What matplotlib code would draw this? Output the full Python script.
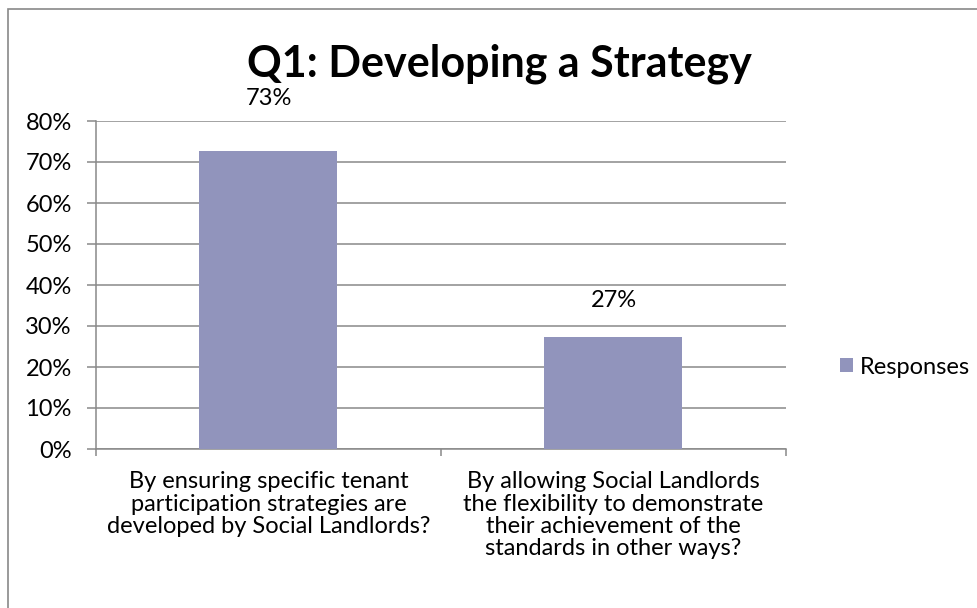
import matplotlib.pyplot as plt
from matplotlib.patches import Rectangle
from matplotlib.ticker import FixedLocator, PercentFormatter

# survey responses
categories = [
    "By ensuring specific tenant\nparticipation strategies are\ndeveloped by Social Landlords?",
    "By allowing Social Landlords\nthe flexibility to demonstrate\ntheir achievement of the\nstandards in other ways?",
]
responses = [0.727, 0.273]
series_name = "Responses"
title = "Q1: Developing a Strategy"

bar_color = "#9194BC"
grid_color = "#898989"
text_size = 17

plt.rcParams['font.family'] = ['Lato', 'DejaVu Sans']

fig = plt.figure(figsize=(9.78, 6.08), dpi=100)
ax = fig.add_axes([96 / 978, 159 / 608, 690 / 978, 328 / 608])

x = list(range(len(categories)))
bars = ax.bar(x, responses, width=0.4, color=bar_color, label=series_name, zorder=3)

# value labels above each bar
label_offsets = [33, 22]
for rect, val, off in zip(bars, responses, label_offsets):
    ax.annotate(f"{val:.0%}", (rect.get_x() + rect.get_width() / 2, val),
                xytext=(0, off), textcoords="offset points",
                ha="center", va="baseline", fontsize=text_size)

ax.set_xlim(-0.5, len(categories) - 0.5)
ax.set_ylim(0, 0.8)
ax.set_yticks([i / 10 for i in range(9)])
ax.yaxis.set_major_formatter(PercentFormatter(1.0, decimals=0))
ax.yaxis.grid(True, color=grid_color, linewidth=1.1, zorder=0)

# category labels centred, tick marks on the boundaries
ax.set_xticks(x)
ax.set_xticklabels(categories, fontsize=text_size, linespacing=1.08)
ax.tick_params(axis="x", which="major", length=0, pad=16)
ax.xaxis.set_minor_locator(FixedLocator([i - 0.5 for i in range(len(categories) + 1)]))
ax.tick_params(axis="x", which="minor", length=5, width=1.1, color=grid_color)
ax.tick_params(axis="y", length=6.5, width=1.1, color=grid_color,
               labelsize=text_size, pad=11)

for side in ("top", "right"):
    ax.spines[side].set_visible(False)
for side in ("left", "bottom"):
    ax.spines[side].set_color(grid_color)
    ax.spines[side].set_linewidth(1.1)

fig.text(499 / 978, 1 - 77 / 608, title, ha="center", va="baseline",
         fontsize=31, fontweight="bold")

ax.legend(loc="center right", bbox_to_anchor=(970 / 978, 1 - 367 / 608),
          bbox_transform=fig.transFigure, frameon=False, fontsize=text_size,
          handlelength=0.55, handleheight=0.55, handletextpad=0.3,
          borderpad=0, borderaxespad=0)

# chart area border, running off the right and bottom edges
fig.patches.append(Rectangle((8 / 978, -0.1), 1.1, 1.1 - 9 / 608,
                             transform=fig.transFigure, fill=False,
                             edgecolor=grid_color, linewidth=1.2))

fig.savefig("out.png", dpi=100)
